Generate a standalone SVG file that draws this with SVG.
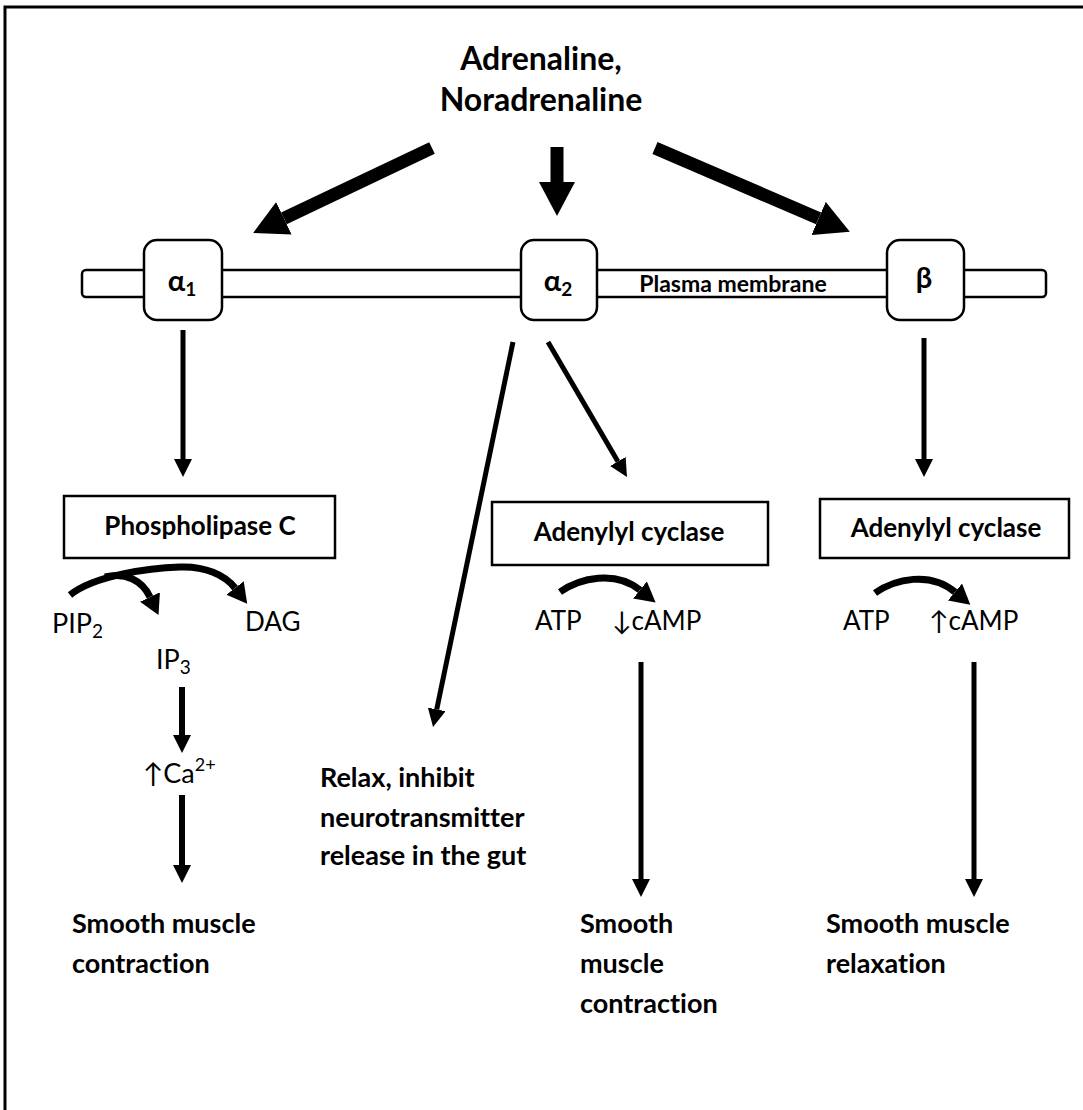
<svg xmlns="http://www.w3.org/2000/svg" width="1083" height="1110" viewBox="0 0 1083 1110">
<defs>
<style>
.b{font-family:Lato,"Open Sans","DejaVu Sans",sans-serif;font-weight:bold;fill:#000;font-variant-ligatures:none}
.r{font-family:Lato,"Open Sans","DejaVu Sans",sans-serif;font-weight:normal;fill:#000;font-variant-ligatures:none}
.box{fill:#fff;stroke:#000;stroke-width:2.5}
.ln{fill:none;stroke:#000;stroke-width:5}
.thick{fill:none;stroke:#000;stroke-width:13}
.cv{fill:none;stroke:#000;stroke-width:7}
</style>
<marker id="big" markerUnits="userSpaceOnUse" markerWidth="34" markerHeight="36" refX="0" refY="18" orient="auto"><path d="M0,0 L34,18 L0,36 z" fill="#000"/></marker>
<marker id="a" markerUnits="userSpaceOnUse" markerWidth="18" markerHeight="18" refX="0" refY="9" orient="auto"><path d="M0,0 L18,9 L0,18 z" fill="#000"/></marker>
<marker id="c" markerUnits="userSpaceOnUse" markerWidth="20" markerHeight="22" refX="0" refY="11" orient="auto"><path d="M0,0 L20,11 L0,22 z" fill="#000"/></marker>
</defs>
<rect width="1083" height="1110" fill="#fff"/>
<path d="M5,1110 V7 H1083" fill="none" stroke="#000" stroke-width="3"/>

<g id="title">
<text class="b" x="541" y="70" font-size="32" text-anchor="middle">Adrenaline,</text>
<text class="b" x="541" y="111" font-size="32" text-anchor="middle">Noradrenaline</text>
</g>

<g id="membrane">
<rect class="box" x="82" y="270" width="964" height="27" rx="4"/>
<text class="b" x="733" y="292" font-size="23" text-anchor="middle">Plasma membrane</text>
</g>
<g id="alpha1">
<rect class="box" x="144" y="240" width="78" height="80" rx="13"/>
<text class="b" x="182" y="291" font-size="29" text-anchor="middle">α<tspan font-size="19" dy="5">1</tspan></text>
</g>
<g id="alpha2">
<rect class="box" x="521" y="240" width="76" height="80" rx="13"/>
<text class="b" x="558" y="291" font-size="29" text-anchor="middle">α<tspan font-size="19" dy="5">2</tspan></text>
</g>
<g id="beta">
<rect class="box" x="887" y="240" width="77" height="80" rx="13"/>
<text class="b" x="924" y="288" font-size="29" text-anchor="middle">β</text>
</g>

<g id="plc">
<rect class="box" x="64" y="496" width="271" height="62"/>
<text class="b" x="200" y="535" font-size="26" text-anchor="middle">Phospholipase C</text>
</g>
<g id="ac1">
<rect class="box" x="492" y="502" width="276" height="63"/>
<text class="b" x="629" y="541" font-size="26" text-anchor="middle">Adenylyl cyclase</text>
</g>
<g id="ac2">
<rect class="box" x="820" y="499" width="249" height="59"/>
<text class="b" x="946" y="537" font-size="26" text-anchor="middle">Adenylyl cyclase</text>
</g>

<g id="pip2"><text class="r" x="52" y="633" font-size="27">PIP<tspan font-size="19" dy="5">2</tspan></text></g>
<g id="dag"><text class="r" x="245" y="631" font-size="26">DAG</text></g>
<g id="ip3"><text class="r" x="156" y="669" font-size="27">IP<tspan font-size="19" dy="5">3</tspan></text></g>
<g id="ca"><text class="r" x="143" y="783" font-size="27">↑Ca<tspan font-size="18" dy="-12">2+</tspan></text></g>
<g id="atp1"><text class="r" x="535" y="630" font-size="26">ATP</text></g>
<g id="camp1"><text class="r" x="612" y="630" font-size="26">↓cAMP</text></g>
<g id="atp2"><text class="r" x="843" y="630" font-size="26">ATP</text></g>
<g id="camp2"><text class="r" x="929" y="630" font-size="26">↑cAMP</text></g>

<g id="out1">
<text class="b" x="72" y="933" font-size="27">Smooth muscle</text>
<text class="b" x="72" y="973" font-size="27">contraction</text>
</g>
<g id="out2">
<text class="b" x="320" y="787" font-size="27">Relax, inhibit</text>
<text class="b" x="320" y="827" font-size="27">neurotransmitter</text>
<text class="b" x="320" y="865" font-size="27">release in the gut</text>
</g>
<g id="out3">
<text class="b" x="580" y="933" font-size="27">Smooth</text>
<text class="b" x="580" y="973" font-size="27">muscle</text>
<text class="b" x="580" y="1013" font-size="27">contraction</text>
</g>
<g id="out4">
<text class="b" x="826" y="933" font-size="27">Smooth muscle</text>
<text class="b" x="826" y="973" font-size="27">relaxation</text>
</g>

<g id="connectors">
<path class="thick" d="M432,148 L283.9,218.3" marker-end="url(#big)"/>
<path class="thick" d="M557,147 L557,182" marker-end="url(#big)"/>
<path class="thick" d="M655,148 L818.6,218.4" marker-end="url(#big)"/>
<path class="ln" d="M183,330 V459" marker-end="url(#a)"/>
<path class="ln" d="M513,342 L436.7,709.4" marker-end="url(#a)"/>
<path class="ln" d="M548,342 L617.9,461.5" marker-end="url(#a)"/>
<path class="ln" d="M924,338 V459" marker-end="url(#a)"/>
<path class="ln" style="stroke-width:6" d="M182,687 V735" marker-end="url(#a)"/>
<path class="ln" style="stroke-width:6" d="M182,795 V865" marker-end="url(#a)"/>
<path class="ln" d="M641,662 V879" marker-end="url(#a)"/>
<path class="ln" d="M974,662 V879" marker-end="url(#a)"/>
<path class="cv" d="M70,595 C95,575 150,568 180,567 C205,566 225,575 235,588" marker-end="url(#c)"/>
<path class="cv" d="M105,577 C125,572 142,580 150,597" marker-end="url(#c)"/>
<path class="cv" d="M560,592 C580,578 615,570 640,590" marker-end="url(#c)"/>
<path class="cv" d="M875,593 C895,579 930,571 955,592" marker-end="url(#c)"/>
</g>
</svg>
